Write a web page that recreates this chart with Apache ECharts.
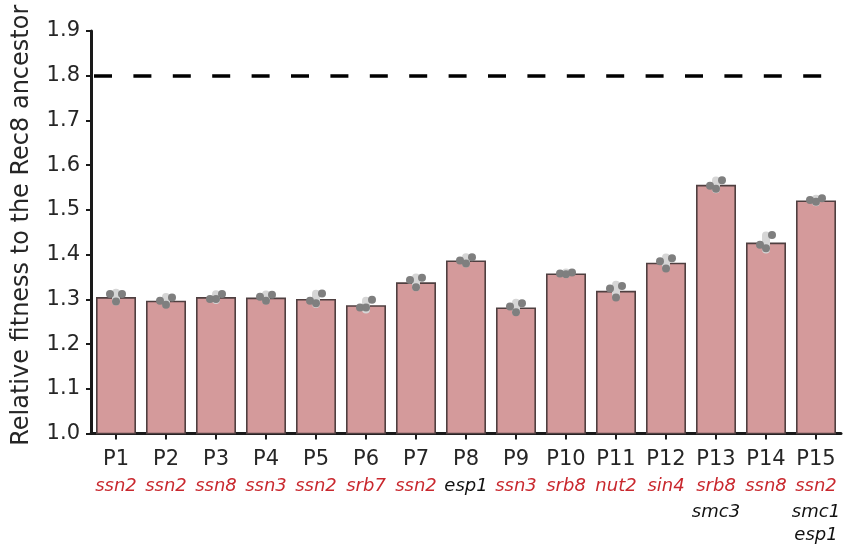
<!DOCTYPE html>
<html>
<head>
<meta charset="utf-8">
<title>Relative fitness of evolved populations</title>
<script src="https://cdn.jsdelivr.net/npm/echarts@6/dist/echarts.min.js"></script>
<style>
  html, body { margin: 0; padding: 0; background: #ffffff; }
  #chart { width: 846px; height: 544px; }
</style>
</head>
<body>
<div id="chart"></div>
<script>
// Evolved populations
const populations = ['P1', 'P2', 'P3', 'P4', 'P5', 'P6', 'P7', 'P8', 'P9', 'P10', 'P11', 'P12', 'P13', 'P14', 'P15'];

// First mutated gene listed under each population (shown in red)
const redGenes = ['ssn2', 'ssn2', 'ssn8', 'ssn3', 'ssn2', 'srb7', 'ssn2', '', 'ssn3', 'srb8', 'nut2', 'sin4', 'srb8', 'ssn8', 'ssn2'];

// Additional mutated genes (shown in black)
const blackGenes = [[], [], [], [], [], [], [], ['esp1'], [], [], [], [], ['smc3'], [], ['smc1', 'esp1']];

// Mean relative fitness per population
const meanFitness = [1.305, 1.297, 1.305, 1.304, 1.301, 1.287, 1.338, 1.387, 1.282, 1.358, 1.319, 1.382, 1.556, 1.427, 1.521];

// Replicate measurements per population
const replicates = [
  [1.312, 1.312, 1.295],
  [1.297, 1.304, 1.288],
  [1.301, 1.312, 1.301],
  [1.306, 1.310, 1.297],
  [1.297, 1.313, 1.291],
  [1.282, 1.299, 1.282],
  [1.343, 1.348, 1.327],
  [1.387, 1.394, 1.380],
  [1.284, 1.291, 1.271],
  [1.358, 1.360, 1.356],
  [1.324, 1.330, 1.304],
  [1.385, 1.392, 1.369],
  [1.554, 1.566, 1.547],
  [1.422, 1.444, 1.414],
  [1.522, 1.526, 1.518]
];

// Reference level
const referenceLevel = 1.8;

// Y axis range
const yMin = 1.0, yMax = 1.9, yStep = 0.1;

const FONT = '"DejaVu Sans", "Noto Sans", sans-serif';
const TEXT = '#262626';
const RED = '#c9282e';

// Sample standard deviation of each population's replicates
function sd(arr) {
  const m = arr.reduce((a, b) => a + b, 0) / arr.length;
  const v = arr.reduce((a, b) => a + (b - m) * (b - m), 0) / (arr.length - 1);
  return Math.sqrt(v);
}
const spreadData = meanFitness.map((m, i) => {
  const s = sd(replicates[i]);
  return [i, m - s, m + s];
});

// Replicate points, spread sideways around the category centre
const jitterPx = [-6, 6, 0];
const pointData = [];
replicates.forEach((reps, i) => {
  reps.forEach((v, j) => {
    pointData.push({ value: [i, v], symbolOffset: [jitterPx[j % jitterPx.length], 0] });
  });
});

const chart = echarts.init(document.getElementById('chart'), null, { renderer: 'canvas' });

chart.setOption({
  animation: false,
  backgroundColor: '#ffffff',
  grid: { left: 91, right: 5, top: 31, bottom: 105, containLabel: false },
  xAxis: {
    type: 'category',
    data: populations,
    boundaryGap: true,
    axisLine: { show: true, lineStyle: { color: '#1a1a1a', width: 3 } },
    axisTick: { show: true, alignWithLabel: true, length: 6, lineStyle: { color: '#1a1a1a', width: 2 } },
    axisLabel: {
      interval: 0,
      margin: 13,
      fontFamily: FONT,
      formatter: function (value, idx) {
        const lines = ['{p|' + value + '}'];
        if (redGenes[idx]) {
          lines.push('{r|' + redGenes[idx] + '}');
          blackGenes[idx].forEach(g => lines.push('{k|' + g + '}'));
        } else {
          blackGenes[idx].forEach((g, n) => lines.push((n === 0 ? '{kb|' : '{k|') + g + '}'));
        }
        return lines.join('\n');
      },
      rich: {
        p: { fontFamily: FONT, fontSize: 21, color: TEXT, lineHeight: 26 },
        r: { fontFamily: FONT, fontSize: 18, fontStyle: 'italic', color: RED, lineHeight: 28 },
        kb: { fontFamily: FONT, fontSize: 18, fontStyle: 'italic', color: '#111111', lineHeight: 28 },
        k: { fontFamily: FONT, fontSize: 18, fontStyle: 'italic', color: '#111111', lineHeight: 23 }
      }
    },
    splitLine: { show: false }
  },
  yAxis: {
    type: 'value',
    min: yMin,
    max: yMax,
    interval: yStep,
    name: 'Relative fitness to the Rec8 ancestor',
    nameLocation: 'middle',
    nameGap: 57,
    nameTextStyle: { fontFamily: FONT, fontSize: 24, color: TEXT, padding: [0, 0, 0, 14] },
    axisLine: { show: true, lineStyle: { color: '#1a1a1a', width: 3 } },
    axisTick: { show: true, length: 5, lineStyle: { color: '#1a1a1a', width: 2 } },
    axisLabel: {
      margin: 11,
      fontFamily: FONT,
      fontSize: 21,
      color: TEXT,
      formatter: v => v.toFixed(1)
    },
    splitLine: { show: false }
  },
  series: [
    {
      name: 'Mean fitness',
      type: 'bar',
      data: meanFitness,
      barWidth: 40,
      itemStyle: { color: '#d49a9b', borderColor: '#4f3f40', borderWidth: 1.6 },
      z: 2,
      markLine: {
        silent: true,
        symbol: ['none', 'none'],
        label: { show: false },
        lineStyle: { color: '#000000', width: 3.5, type: [18, 21.4], dashOffset: 36.4 },
        data: [{ yAxis: referenceLevel }]
      }
    },
    {
      name: 'Spread',
      type: 'custom',
      data: spreadData,
      encode: { x: 0, y: [1, 2] },
      z: 3,
      renderItem: function (params, api) {
        const i = api.value(0);
        const lo = api.coord([i, api.value(1)]);
        const hi = api.coord([i, api.value(2)]);
        return {
          type: 'line',
          shape: { x1: lo[0], y1: lo[1], x2: hi[0], y2: hi[1] },
          style: { stroke: '#d6d6d6', lineWidth: 8, lineCap: 'round' }
        };
      }
    },
    {
      name: 'Replicates',
      type: 'scatter',
      data: pointData,
      symbol: 'circle',
      symbolSize: 8,
      itemStyle: { color: '#7f7f7f', opacity: 1 },
      z: 4
    }
  ]
});
</script>
</body>
</html>
